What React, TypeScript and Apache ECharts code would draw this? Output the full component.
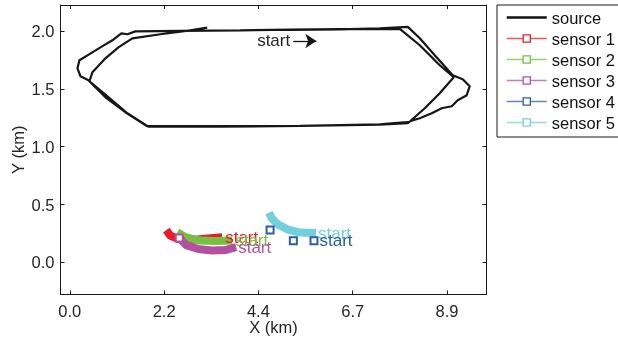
import { useEffect, useRef } from "react";
import * as echarts from "echarts";

// ---- axis ticks ----
const xTickValues = [0, 2.225, 4.45, 6.675, 8.9];
const xTickLabels = ["0.0", "2.2", "4.4", "6.7", "8.9"];
const yTickValues = [0, 0.5, 1.0, 1.5, 2.0];
const yTickLabels = ["0.0", "0.5", "1.0", "1.5", "2.0"];

// ---- source trajectory (km) ----
const sourceX = [
  5.196, 6.374, 7.315, 7.975, 8.257, 8.61, 9.034, 9.27, 9.434, 9.364, 9.152, 9.011, 8.775, 8.54, 8.257,
  7.951, 7.315, 5.432, 3.548, 1.829, 1.311, 0.841, 0.44, 0.252, 0.181, 0.228, 0.417, 0.723, 1.005, 1.217,
  1.359, 1.547, 2.606, 4.019, 5.196, 6.374, 7.786, 8.257, 8.728, 9.058, 8.728, 8.375, 7.975, 7.315, 5.432,
  3.548, 1.853, 1.359, 0.888, 0.464, 0.534, 0.841, 1.147, 1.476, 2.136, 2.842, 3.242,
];
const sourceY = [
  2.01, 2.015, 2.023, 2.036, 1.937, 1.79, 1.617, 1.583, 1.522, 1.445, 1.402, 1.35, 1.332, 1.289, 1.246,
  1.212, 1.194, 1.181, 1.177, 1.177, 1.298, 1.427, 1.574, 1.609, 1.678, 1.747, 1.79, 1.859, 1.92, 1.98,
  1.972, 1.997, 2.002, 2.006, 2.012, 2.017, 2.019, 1.877, 1.704, 1.6, 1.462, 1.332, 1.203, 1.19, 1.179,
  1.174, 1.173, 1.289, 1.436, 1.566, 1.643, 1.764, 1.859, 1.937, 1.972, 2.006, 2.029,
];
const sourceArrowX = [5.271, 5.817];
const sourceArrowY = [1.914, 1.914];

// ---- sensors (ordered from start to end) ----
const sensor1X = [3.595, 3.195, 2.842, 2.559, 2.371, 2.277];
const sensor1Y = [0.218, 0.205, 0.192, 0.201, 0.231, 0.279];
const sensor2X = [3.831, 3.43, 3.077, 2.724, 2.536];
const sensor2Y = [0.188, 0.184, 0.188, 0.218, 0.262];
const sensor3X = [3.925, 3.666, 3.36, 3.03, 2.748, 2.583];
const sensor3Y = [0.132, 0.106, 0.102, 0.115, 0.149, 0.21];
const sensor4X = [5.761, 5.274, 4.725];
const sensor4Y = [0.187, 0.187, 0.279];
const sensor5X = [5.808, 5.432, 5.149, 4.914, 4.761, 4.702];
const sensor5Y = [0.253, 0.257, 0.283, 0.326, 0.382, 0.43];

const sensorNames = ["sensor 1", "sensor 2", "sensor 3", "sensor 4", "sensor 5"];
const sensorColors = ["#ed1c24", "#76c043", "#b3509f", "#2e5ca8", "#72cfdd"];

const FONT = "'Liberation Sans', Arial, Helvetica, sans-serif";

function labelFor(values: number[], labels: string[]) {
  return (v: number) => {
    const i = values.findIndex((t) => Math.abs(t - v) < 1e-6);
    return i >= 0 ? labels[i] : "";
  };
}

// mode: "line" = thick track only, "lineEnd" = track + marker at its end, "markers" = markers only
function sensorSeries(idx: number, xs: number[], ys: number[], mode: string, labelDist: number) {
  const color = sensorColors[idx];
  const n = xs.length;
  const data = xs.map((x, i) => {
    const item: any = { value: [x, ys[i]] };
    if (mode === "markers" || (mode === "lineEnd" && i === n - 1)) {
      item.symbol = "rect";
      item.symbolSize = 7;
    } else if (i === 0) {
      item.symbol = "circle";
      item.symbolSize = 0;
    } else {
      item.symbol = "none";
    }
    if (i === 0) {
      item.label = {
        show: true,
        formatter: "start",
        position: "right",
        distance: labelDist,
        color,
        fontSize: 17,
        fontFamily: FONT,
      };
    }
    return item;
  });
  return {
    name: sensorNames[idx],
    type: "line",
    data,
    z: mode === "markers" ? 4 : 2,
    symbol: "rect",
    symbolSize: 7,
    showSymbol: true,
    showAllSymbol: true,
    lineStyle: { color, width: mode === "markers" ? 0 : 8, cap: "butt", join: "round" },
    itemStyle: { color: "#ffffff", borderColor: color, borderWidth: 2 },
    emphasis: { disabled: true },
  };
}

export default function App() {
  const ref = useRef<HTMLDivElement>(null);
  useEffect(() => {
    const chart = echarts.init(ref.current!, null, { renderer: "svg" });
    const axisLineStyle = { color: "#1a1a1a", width: 1 };
    const labelStyle = { fontSize: 16.5, color: "#262626", fontFamily: FONT };
    const xMin = -0.219;
    const xMax = 9.831;
    const yMin = -0.278;
    const yMax = 2.225;

    const option: any = {
      animation: false,
      textStyle: { fontFamily: FONT },
      grid: { left: 60.5, right: 131.5, top: 5, bottom: 44.5, containLabel: false, outerBoundsMode: "none" },
      xAxis: [
        {
          type: "value",
          min: xMin,
          max: xMax,
          position: "bottom",
          axisLine: { show: true, onZero: false, lineStyle: axisLineStyle },
          axisTick: { show: true, inside: true, length: 4, customValues: xTickValues, lineStyle: axisLineStyle },
          axisLabel: { customValues: xTickValues, formatter: labelFor(xTickValues, xTickLabels), margin: 8, ...labelStyle },
          splitLine: { show: false },
          name: "X (km)",
          nameLocation: "middle",
          nameGap: 24,
          nameMoveOverlap: false,
          nameTextStyle: { ...labelStyle, verticalAlign: "top" },
        },
        {
          type: "value",
          min: xMin,
          max: xMax,
          position: "top",
          axisLine: { show: true, onZero: false, lineStyle: axisLineStyle },
          axisTick: { show: true, inside: true, length: 4, customValues: xTickValues, lineStyle: axisLineStyle },
          axisLabel: { show: false },
          splitLine: { show: false },
        },
      ],
      yAxis: [
        {
          type: "value",
          min: yMin,
          max: yMax,
          position: "left",
          axisLine: { show: true, onZero: false, lineStyle: axisLineStyle },
          axisTick: { show: true, inside: true, length: 4, customValues: yTickValues, lineStyle: axisLineStyle },
          axisLabel: { customValues: yTickValues, formatter: labelFor(yTickValues, yTickLabels), margin: 6, ...labelStyle },
          splitLine: { show: false },
          name: "Y (km)",
          nameLocation: "middle",
          nameGap: 34,
          nameMoveOverlap: false,
          nameTextStyle: { ...labelStyle },
        },
        {
          type: "value",
          min: yMin,
          max: yMax,
          position: "right",
          axisLine: { show: true, onZero: false, lineStyle: axisLineStyle },
          axisTick: { show: true, inside: true, length: 4, customValues: yTickValues, lineStyle: axisLineStyle },
          axisLabel: { show: false },
          splitLine: { show: false },
        },
      ],
      legend: {
        orient: "vertical",
        left: 497,
        top: 5,
        padding: [4, 30, 6, 9],
        itemWidth: 40,
        itemHeight: 9,
        itemGap: 4,
        borderColor: "#1a1a1a",
        borderWidth: 1,
        backgroundColor: "#ffffff",
        selectedMode: false,
        textStyle: { fontSize: 16.5, color: "#111", fontFamily: FONT, lineHeight: 16 },
        lineStyle: { width: 1.5 },
        data: [
          { name: "source", icon: "path://M0 0 H40 V2.6 H0 Z", itemStyle: { color: "#111", borderWidth: 0 } },
          ...sensorNames.map((n, i) => ({
            name: n,
            lineStyle: { width: 1.5, color: sensorColors[i], opacity: 0.75 },
            itemStyle: { color: "#ffffff", borderColor: sensorColors[i], borderWidth: 1.3 },
          })),
        ],
      },
      series: [
        {
          name: "source",
          type: "line",
          data: sourceX.map((x, i) => [x, sourceY[i]]),
          symbol: "none",
          showSymbol: false,
          lineStyle: { color: "#161616", width: 2.2 },
          itemStyle: { color: "#161616" },
          emphasis: { disabled: true },
          markLine: {
            silent: true,
            symbol: ["none", "arrow"],
            symbolSize: 11,
            lineStyle: { color: "#161616", width: 1.3, type: "solid" },
            label: {
              show: true,
              position: "start",
              formatter: "start",
              distance: 3,
              color: "#262626",
              fontSize: 17,
              fontFamily: FONT,
            },
            data: [
              [
                { coord: [sourceArrowX[0], sourceArrowY[0]] },
                { coord: [sourceArrowX[1], sourceArrowY[1]] },
              ],
            ],
          },
        },
        sensorSeries(0, sensor1X, sensor1Y, "line", 3),
        sensorSeries(1, sensor2X, sensor2Y, "line", 3),
        sensorSeries(2, sensor3X, sensor3Y, "lineEnd", 2),
        sensorSeries(3, sensor4X, sensor4Y, "markers", 1),
        sensorSeries(4, sensor5X, sensor5Y, "line", 2),
      ],
    };
    chart.setOption(option);
    return () => chart.dispose();
  }, []);
  return <div ref={ref} style={{ position: "fixed", left: 0, top: 0, width: 618, height: 339 }} />;
}
